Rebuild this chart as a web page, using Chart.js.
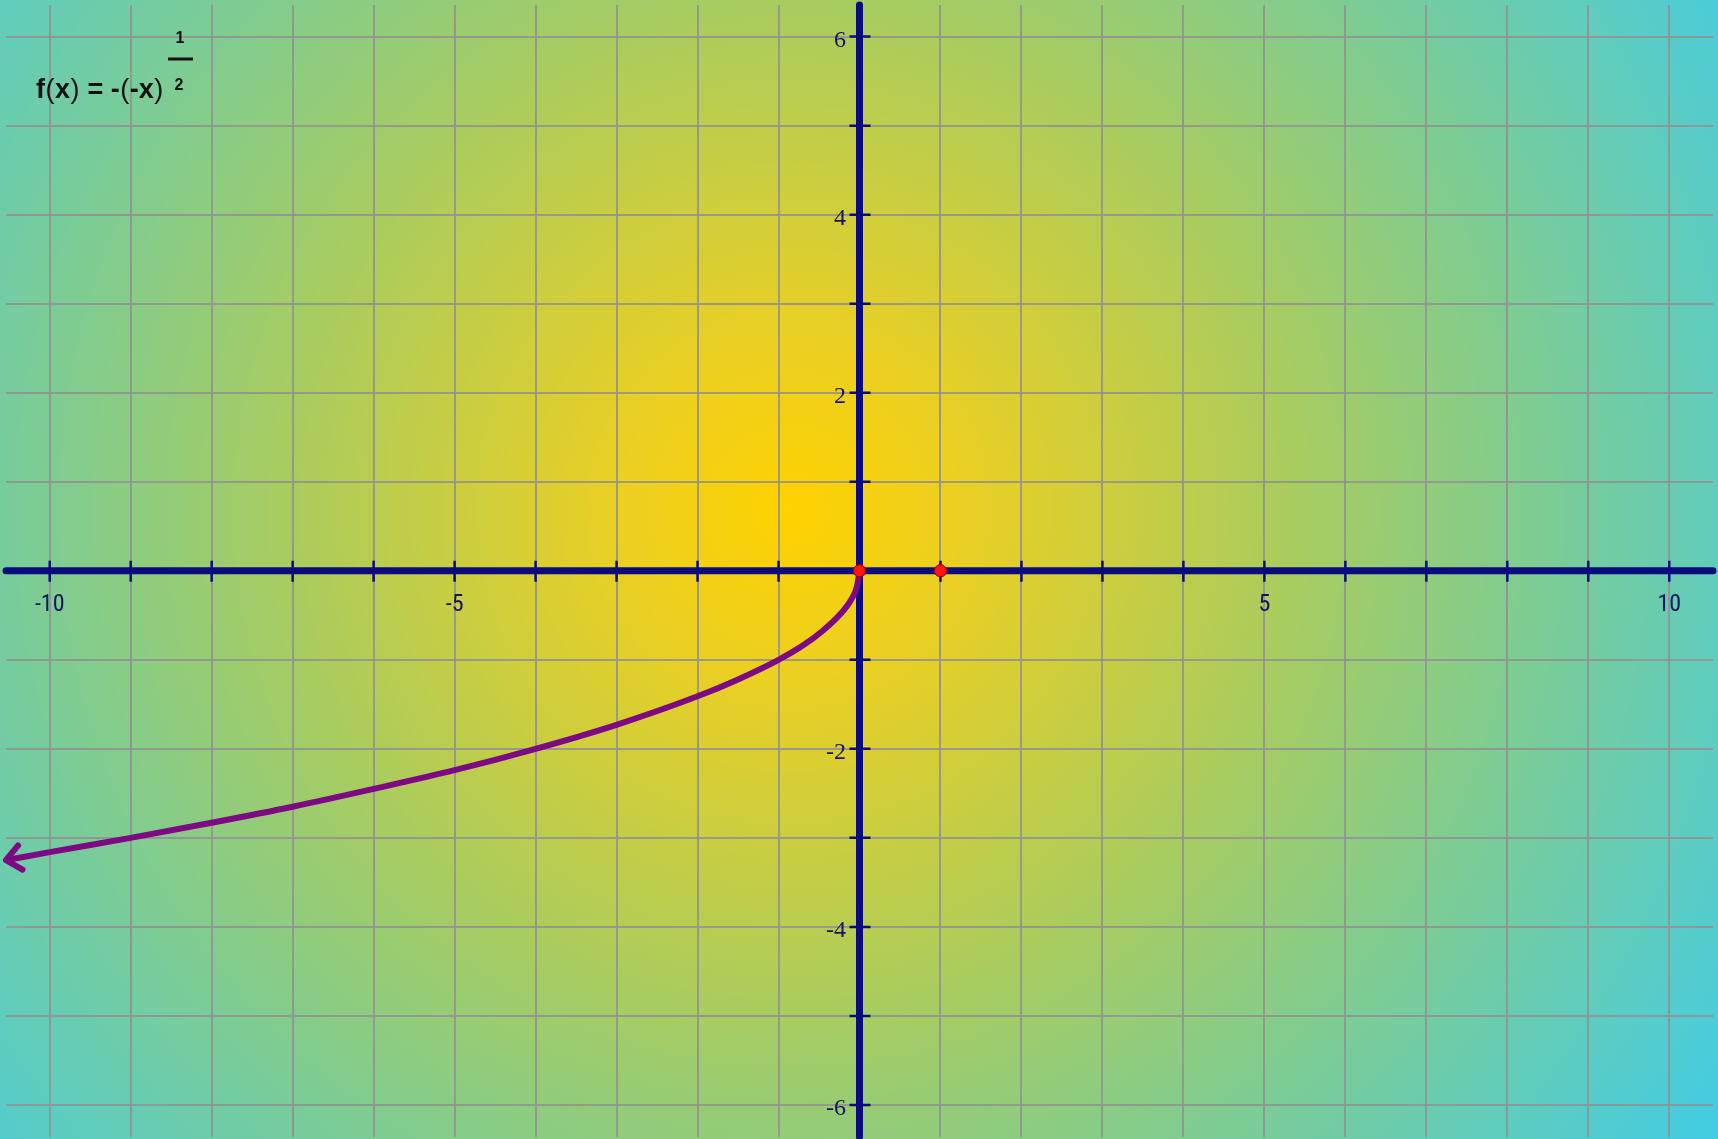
<!DOCTYPE html>
<html>
<head>
<meta charset="utf-8">
<script src="https://cdn.jsdelivr.net/npm/chart.js@4.4.0/dist/chart.umd.min.js"></script>
<style>
  html, body { margin: 0; padding: 0; background: #7fcc9a; }
  #wrap { width: 1718px; height: 1139px; position: relative; }
</style>
</head>
<body>
<div id="wrap"><canvas id="graph"></canvas></div>
<script>
// valores
const curveX = [-10.54, -10, -9, -8, -7, -6, -5, -4, -3, -2, -1.5, -1, -0.7, -0.45, -0.25, -0.1, -0.03, 0];
const curveY = [-3.25, -3.16, -3.0, -2.83, -2.65, -2.45, -2.24, -2.0, -1.73, -1.41, -1.22, -1.0, -0.84, -0.67, -0.5, -0.32, -0.17, 0];
const dotX = [0, 1];
const dotY = [0, 0];
const gridX = [-10, -9, -8, -7, -6, -5, -4, -3, -2, -1, 0, 1, 2, 3, 4, 5, 6, 7, 8, 9, 10];
const gridY = [-6, -5, -4, -3, -2, -1, 0, 1, 2, 3, 4, 5, 6];
const xLabels = [-10, -5, 5, 10];
const yLabels = [-6, -4, -2, 2, 4, 6];

const NAVY = '#0b0b7e';
const PURPLE = '#7d0a82';

// fundo com gradiente radial
const backgroundPlugin = {
  id: 'bg',
  beforeDraw(chart) {
    const { ctx, width, height } = chart;
    const g = ctx.createRadialGradient(790, 510, 0, 790, 510, 1130);
    g.addColorStop(0, '#ffd200');
    g.addColorStop(0.15, '#ebcf22');
    g.addColorStop(0.45, '#a8cc60');
    g.addColorStop(0.65, '#80cc90');
    g.addColorStop(1, '#40cce8');
    ctx.save();
    ctx.fillStyle = g;
    ctx.fillRect(0, 0, width, height);
    ctx.restore();
  }
};

// eixos centrais, marcas e rótulos
const axesPlugin = {
  id: 'axes',
  beforeDatasetsDraw(chart) {
    const { ctx, chartArea: a, scales: { x, y } } = chart;
    const x0 = x.getPixelForValue(0);
    const y0 = y.getPixelForValue(0);
    ctx.save();
    ctx.strokeStyle = NAVY;
    ctx.lineCap = 'round';
    ctx.lineWidth = 7;
    ctx.beginPath();
    ctx.moveTo(a.left, y0); ctx.lineTo(a.right, y0);
    ctx.moveTo(x0, a.top); ctx.lineTo(x0, a.bottom);
    ctx.stroke();

    ctx.lineCap = 'butt';
    ctx.lineWidth = 2.5;
    ctx.beginPath();
    gridX.forEach(v => {
      if (v === 0) return;
      const px = x.getPixelForValue(v);
      ctx.moveTo(px, y0 - 10); ctx.lineTo(px, y0 + 11);
    });
    gridY.forEach(v => {
      if (v === 0) return;
      const py = y.getPixelForValue(v);
      ctx.moveTo(x0 - 10, py); ctx.lineTo(x0 + 11, py);
    });
    ctx.stroke();

    ctx.fillStyle = '#15155e';
    ctx.font = '24px "Liberation Sans Narrow", "Roboto Condensed", "Liberation Sans", Arial, sans-serif';
    ctx.textAlign = 'center';
    ctx.textBaseline = 'alphabetic';
    xLabels.forEach(v => ctx.fillText(String(v), x.getPixelForValue(v), y0 + 40.5));

    ctx.font = '24px "Liberation Serif", "Times New Roman", serif';
    ctx.textAlign = 'right';
    yLabels.forEach(v => ctx.fillText(String(v), x0 - 13.5, y.getPixelForValue(v) + 10));
    ctx.restore();
  },
  afterDatasetsDraw(chart) {
    // seta na ponta esquerda da curva
    const pts = chart.getDatasetMeta(1).data;
    if (pts.length < 2) return;
    const p0 = pts[0], p1 = pts[1];
    const ang = Math.atan2(p0.y - p1.y, p0.x - p1.x);
    const { ctx } = chart;
    ctx.save();
    ctx.strokeStyle = PURPLE;
    ctx.lineWidth = 6;
    ctx.lineCap = 'round';
    ctx.lineJoin = 'round';
    const len = 19, spread = 0.7;
    ctx.beginPath();
    ctx.moveTo(p0.x - len * Math.cos(ang - spread), p0.y - len * Math.sin(ang - spread));
    ctx.lineTo(p0.x, p0.y);
    ctx.lineTo(p0.x - len * Math.cos(ang + spread), p0.y - len * Math.sin(ang + spread));
    ctx.stroke();

    // pontos vermelhos por cima
    chart.getDatasetMeta(0).data.forEach(el => el.draw(ctx, chart.chartArea));
    ctx.restore();
  },
  afterDraw(chart) {
    // título f(x) = -(-x)^(1/2)
    const { ctx } = chart;
    const bold = 'bold 27px "Liberation Sans", Arial, sans-serif';
    const thin = '27px "Liberation Sans", Arial, sans-serif';
    const parts = [['f', bold], ['(', thin], ['x', bold], [')', thin], [' = -', bold], ['(', thin], ['-x', bold], [')', thin]];
    ctx.save();
    ctx.fillStyle = '#111';
    ctx.textBaseline = 'alphabetic';
    ctx.textAlign = 'left';
    let cx = 36;
    parts.forEach(([t, f]) => {
      ctx.font = f;
      ctx.fillText(t, cx, 98);
      cx += ctx.measureText(t).width + 0.5;
    });
    ctx.font = 'bold 16px "Liberation Sans", Arial, sans-serif';
    ctx.textAlign = 'center';
    ctx.fillText('1', 180, 43);
    ctx.fillText('2', 179, 90);
    ctx.fillRect(168, 57.5, 25, 3);
    ctx.restore();
  }
};

new Chart(document.getElementById('graph'), {
  type: 'line',
  data: {
    datasets: [
      {
        label: 'pontos',
        data: dotX.map((v, i) => ({ x: v, y: dotY[i] })),
        showLine: false,
        pointRadius: 6,
        pointBackgroundColor: '#ff1414',
        pointBorderColor: '#a00000',
        pointBorderWidth: 1,
        order: 0
      },
      {
        label: 'f(x) = -(-x)^(1/2)',
        data: curveX.map((v, i) => ({ x: v, y: curveY[i] })),
        borderColor: PURPLE,
        borderWidth: 6,
        pointRadius: 0,
        cubicInterpolationMode: 'monotone',
        borderCapStyle: 'round',
        borderJoinStyle: 'round',
        fill: false,
        order: 1
      }
    ]
  },
  options: {
    responsive: true,
    maintainAspectRatio: false,
    animation: false,
    layout: { autoPadding: false, padding: { left: 6, right: 5, top: 5, bottom: 2 } },
    plugins: { legend: { display: false }, tooltip: { enabled: false } },
    scales: {
      x: {
        type: 'linear',
        min: -10.54, max: 10.54,
        afterBuildTicks: s => { s.ticks = gridX.map(v => ({ value: v })); },
        afterFit: s => { s.height = 0; s.paddingLeft = 0; s.paddingRight = 0; },
        ticks: { display: false },
        border: { display: false },
        grid: { color: 'rgba(145,145,145,0.85)', lineWidth: 2, drawTicks: false }
      },
      y: {
        type: 'linear',
        min: -6.36, max: 6.355,
        afterBuildTicks: s => { s.ticks = gridY.map(v => ({ value: v })); },
        afterFit: s => { s.width = 0; s.paddingTop = 0; s.paddingBottom = 0; },
        ticks: { display: false },
        border: { display: false },
        grid: { color: 'rgba(145,145,145,0.85)', lineWidth: 2, drawTicks: false }
      }
    }
  },
  plugins: [backgroundPlugin, axesPlugin]
});
</script>
</body>
</html>
